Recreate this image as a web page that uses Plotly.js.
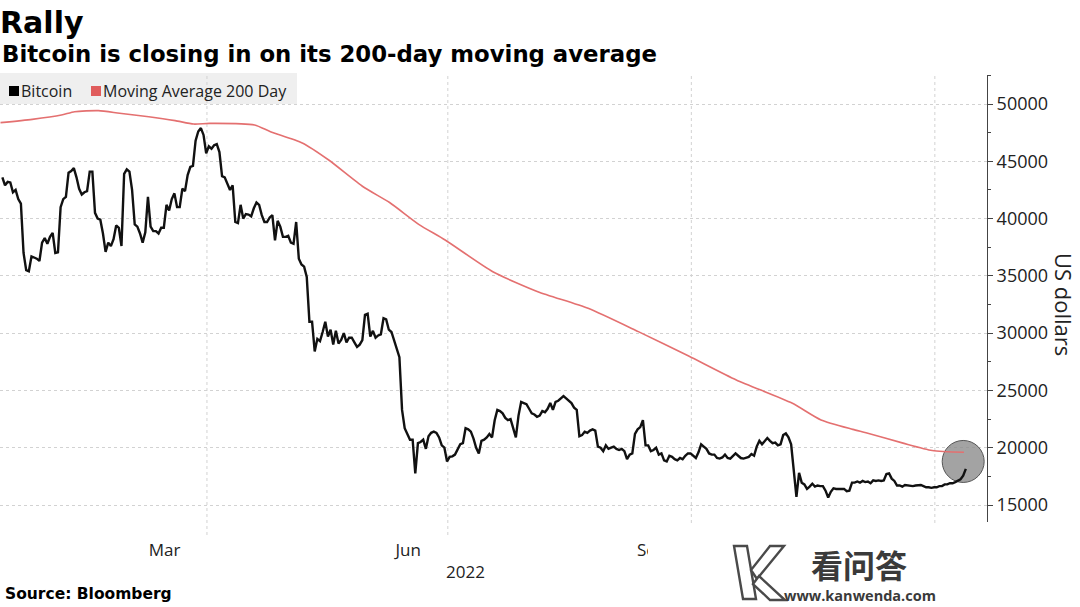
<!DOCTYPE html>
<html>
<head>
<meta charset="utf-8">
<script src="https://cdn.plot.ly/plotly-3.0.1.min.js"></script>
<style>
  html, body { margin: 0; padding: 0; background: #fff; }
  #chart { width: 1080px; height: 607px; }
</style>
</head>
<body>
<div id="chart"></div>
<script>
// ---------------- DATA ----------------
// Bitcoin daily closes, one array per month (first day given in start date)
const btc2022Jan = [43600, 42900, 43200, 43150, 42300, 42500, 41700, 41300, 37000, 35500, 35400, 36700, 36600, 36500, 36300, 37900, 38300, 37800, 38400];
const btc2022Feb = [38750, 37000, 37050, 41000, 41700, 41900, 44000, 44150, 44400, 43600, 42600, 42100, 42300, 42400, 44100, 44100, 40500, 40000, 39900, 38700, 37100, 37900, 37600, 38200, 39400, 39200, 37600, 43900];
const btc2022Mar = [44300, 44100, 42500, 39500, 39300, 38700, 37900, 38800, 41900, 39300, 38900, 38900, 38700, 39200, 39200, 41200, 40700, 41700, 42200, 41000, 41000, 42600, 42400, 43800, 44500, 44600, 46800, 47600, 47900, 47300, 45700];
const btc2022Apr = [46300, 46100, 46400, 46500, 45800, 43700, 43600, 43100, 42500, 42900, 39700, 39600, 41200, 40000, 40400, 40350, 40200, 40900, 41400, 41200, 40300, 39700, 39700, 40100, 40300, 38100, 39800, 39300, 38400, 38400];
const btc2022May = [38500, 37900, 37800, 39700, 36500, 36000, 35800, 34900, 31000, 31000, 28400, 29500, 29300, 30100, 31000, 29700, 30300, 29000, 30200, 29100, 29400, 30000, 29200, 29600, 29600, 29200, 28800, 29000, 29400, 31600, 31700];
const btc2022Jun = [29700, 30200, 29600, 29800, 29900, 31300, 31200, 30300, 30100, 29400, 28800, 27900, 23300, 21700, 21200, 20700, 20700, 17750, 20400, 20500, 20700, 19900, 21000, 21300, 21400, 21300, 20900, 20200, 20000, 18800];
const btc2022Jul = [19200, 19250, 19400, 19900, 20300, 20400, 21700, 21600, 21400, 20800, 20000, 19500, 20600, 20700, 20900, 21200, 20900, 22400, 23300, 23200, 23000, 22600, 22400, 22500, 21700, 20900, 22800, 24000, 23900, 23800, 23400];
const btc2022Aug = [23000, 22900, 22700, 22800, 23200, 23100, 23400, 23900, 23300, 24000, 24100, 24300, 24500, 24300, 24100, 23900, 23500, 23300, 21000, 21100, 21400, 21300, 21500, 21600, 21500, 20100, 20000, 19700, 20200, 19900, 20000];
const btc2022Sep = [20100, 19900, 19800, 19900, 19700, 19000, 19400, 19500, 21200, 21600, 21800, 22400, 20200, 20200, 19700, 19800, 20000, 19400, 19500, 18900, 18800, 19300, 19200, 19000, 18900, 19100, 19000, 19300, 19500, 19500];
const btc2022Oct = [19300, 19100, 19600, 20300, 20100, 19900, 19500, 19400, 19400, 19100, 19050, 19150, 19400, 19100, 19050, 19250, 19500, 19300, 19100, 19050, 19150, 19200, 19450, 19300, 20100, 20600, 20300, 20600, 20850, 20600, 20400];
const btc2022Nov = [20450, 20200, 20300, 21100, 21250, 20900, 20300, 18100, 15700, 17800, 16950, 16800, 16400, 16600, 16850, 16600, 16700, 16650, 16650, 16250, 15650, 16150, 16450, 16400, 16400, 16350, 16400, 16200, 16250, 16950];
const btc2022Dec = [16950, 17050, 16950, 17100, 17000, 17050, 16900, 17150, 17100, 17150, 17100, 17150, 17700, 17750, 17300, 17100, 16700, 16700, 16600, 16750, 16700, 16700, 16650, 16700, 16700, 16750, 16650, 16550, 16550, 16500, 16550];
const btc2023Jan = [16550, 16650, 16650, 16800, 16800, 16900, 16900, 17000, 17100, 17250, 17550, 18150];

const btcMonths = [
  ['2022-01-13', btc2022Jan], ['2022-02-01', btc2022Feb], ['2022-03-01', btc2022Mar],
  ['2022-04-01', btc2022Apr], ['2022-05-01', btc2022May], ['2022-06-01', btc2022Jun],
  ['2022-07-01', btc2022Jul], ['2022-08-01', btc2022Aug], ['2022-09-01', btc2022Sep],
  ['2022-10-01', btc2022Oct], ['2022-11-01', btc2022Nov], ['2022-12-01', btc2022Dec],
  ['2023-01-01', btc2023Jan]
];

// 200-day moving average, read at points along the red line
const maDates = ['2022-01-13', '2022-01-25', '2022-02-05', '2022-02-10', '2022-02-19', '2022-02-27',
  '2022-03-10', '2022-03-20', '2022-03-27', '2022-04-02', '2022-04-19', '2022-04-25', '2022-05-07',
  '2022-05-17', '2022-05-30', '2022-06-09', '2022-06-20', '2022-06-30', '2022-07-18', '2022-08-04',
  '2022-08-23', '2022-09-11', '2022-09-30', '2022-10-18', '2022-11-08', '2022-11-19', '2022-12-01',
  '2022-12-06', '2022-12-20', '2022-12-31', '2023-01-12'];
const maValues = [48370, 48660, 49040, 49330, 49420, 49190, 48890, 48550, 48250, 48310, 48170, 47580,
  46600, 45110, 42780, 41400, 39500, 38130, 35360, 33620, 32170, 30130, 28000, 25910, 23900, 22420,
  21600, 21300, 20400, 19760, 19600];

// Axis labels
const yTickVals = [15000, 20000, 25000, 30000, 35000, 40000, 45000, 50000];
const yTickText = ['15000', '20000', '25000', '30000', '35000', '40000', '45000', '50000'];
const xTickVals = ['2022-03-16', '2022-06-16', '2022-09-16'];
const xTickText = ['Mar', 'Jun', 'Sep'];
const quarterStarts = ['2022-04-01', '2022-07-01', '2022-10-01', '2023-01-01'];
const lastPoint = { date: '2023-01-11 17:00', value: 18800 };

// ---------------- BUILD ----------------
function dailyDates(startISO, n) {
  const t0 = Date.parse(startISO + 'T17:00:00Z');
  const out = [];
  for (let i = 0; i < n; i++) {
    out.push(new Date(t0 + i * 86400000).toISOString().slice(0, 16).replace('T', ' '));
  }
  return out;
}
let btcX = [], btcY = [];
btcMonths.forEach(([start, vals]) => {
  btcX = btcX.concat(dailyDates(start, vals.length));
  btcY = btcY.concat(vals);
});

const PLOT_W = 987, PLOT_TOP = 75, PLOT_BOT = 522, FIG_W = 1080, FIG_H = 607;
const px = v => v / PLOT_W;
const py = v => (PLOT_BOT - v) / (PLOT_BOT - PLOT_TOP);
// polygon path in paper units from pixel points
const pathFromPx = pts => pts.map((p, i) => (i ? 'L' : 'M') + px(p[0]).toFixed(5) + ',' + py(p[1]).toFixed(5)).join(' ') + ' Z';

const traces = [
  { type: 'scatter', mode: 'lines', name: 'Moving Average 200 Day', x: maDates, y: maValues,
    line: { color: '#e47070', width: 1.6, shape: 'spline', smoothing: 0.6 }, showlegend: false, hoverinfo: 'skip' },
  { type: 'scatter', mode: 'lines', name: 'Bitcoin', x: btcX, y: btcY,
    line: { color: '#111111', width: 2.4 }, showlegend: false, hoverinfo: 'skip' }
];

const shapes = [
  // legend background
  { type: 'rect', xref: 'paper', yref: 'paper', x0: 0, x1: px(297), y0: py(104), y1: py(73),
    fillcolor: '#efefef', line: { width: 0 }, layer: 'below' }
];
quarterStarts.forEach(d => shapes.push({
  type: 'line', xref: 'x', yref: 'paper', x0: d, x1: d, y0: py(535), y1: 1,
  line: { color: '#d2d2d2', width: 1, dash: 'dot' }, layer: 'below'
}));
shapes.push(
  // highlight circle at the latest point
  { type: 'circle', xref: 'x', yref: 'y', xsizemode: 'pixel', ysizemode: 'pixel',
    xanchor: lastPoint.date, yanchor: lastPoint.value, x0: -21, x1: 21, y0: -21, y1: 21,
    fillcolor: 'rgba(140,140,140,0.8)', line: { color: '#555', width: 1 }, layer: 'between' },
  // legend swatches
  { type: 'rect', xref: 'paper', yref: 'paper', x0: px(9), x1: px(19), y0: py(96), y1: py(86),
    fillcolor: '#000', line: { width: 0 }, layer: 'above' },
  { type: 'rect', xref: 'paper', yref: 'paper', x0: px(91), x1: px(101), y0: py(96), y1: py(86),
    fillcolor: '#e05c5c', line: { width: 0 }, layer: 'above' },
  // watermark backing
  { type: 'rect', xref: 'paper', yref: 'paper', x0: px(648), x1: px(985), y0: py(607), y1: py(524),
    fillcolor: '#ffffff', line: { width: 0 }, layer: 'above' }
);
// watermark "K" logo, three outlined strokes
const logoStrokes = [
  [[734, 546], [747, 546], [756, 599], [743, 599]],
  [[770, 546], [784, 546], [757, 579], [751, 570]],
  [[753, 584], [759, 576], [785, 600], [770, 600]]
];
logoStrokes.forEach(pts => shapes.push({
  type: 'path', xref: 'paper', yref: 'paper', path: pathFromPx(pts),
  fillcolor: '#ffffff', line: { color: '#4a4a4a', width: 2.4 }, layer: 'above'
}));

const ann = (o) => Object.assign({ xref: 'paper', yref: 'paper', showarrow: false }, o);
const annotations = [
  ann({ text: 'Bitcoin is closing in on its 200-day moving average', x: 0, xanchor: 'left', y: py(54), yanchor: 'middle',
        font: { family: 'DejaVu Sans', size: 22.8, weight: 'bold', color: '#000' } }),
  ann({ text: 'Bitcoin', x: px(19), xanchor: 'left', y: py(91), yanchor: 'middle',
        font: { family: 'Open Sans', size: 16, color: '#222' } }),
  ann({ text: 'Moving Average 200 Day', x: px(101), xanchor: 'left', y: py(91), yanchor: 'middle',
        font: { family: 'Open Sans', size: 16, color: '#222' } }),
  ann({ text: 'US dollars', textangle: 90, x: px(1064), xanchor: 'center', y: py(304), yanchor: 'middle',
        font: { family: 'Open Sans', size: 22, color: '#222' } }),
  ann({ text: '2022', x: px(465), xanchor: 'center', y: py(571), yanchor: 'middle',
        font: { family: 'Open Sans', size: 17, color: '#222' } }),
  ann({ text: 'Source: Bloomberg', x: px(3), xanchor: 'left', y: py(594), yanchor: 'middle',
        font: { family: 'DejaVu Sans', size: 15.5, weight: 'bold', color: '#000' } }),
  ann({ text: '看问答', x: px(859), xanchor: 'center', y: py(564), yanchor: 'middle',
        font: { family: 'Noto Sans CJK SC', size: 32, weight: 'bold', color: '#3a3a3a' } }),
  ann({ text: 'www.kanwenda.com', x: px(860), xanchor: 'center', y: py(595), yanchor: 'middle',
        font: { family: 'Open Sans', size: 14.5, weight: 'bold', color: '#3a3a3a' } })
];

const layout = {
  width: FIG_W, height: FIG_H,
  margin: { l: 0, r: FIG_W - PLOT_W, t: PLOT_TOP, b: FIG_H - PLOT_BOT, pad: 0 },
  paper_bgcolor: '#ffffff', plot_bgcolor: '#ffffff',
  showlegend: false,
  title: { text: 'Rally', x: 0, xref: 'container', xanchor: 'left',
           y: 1 - 22.5 / FIG_H, yref: 'container', yanchor: 'middle',
           font: { family: 'DejaVu Sans', size: 30, weight: 'bold', color: '#000' } },
  xaxis: {
    type: 'date', range: ['2022-01-12 19:28', '2023-01-20 17:00'],
    tickmode: 'array', tickvals: xTickVals, ticktext: xTickText,
    ticks: '', showgrid: false, showline: false, zeroline: false,
    ticklabelstandoff: 16,
    tickfont: { family: 'Open Sans', size: 17, color: '#222' }, fixedrange: true
  },
  yaxis: {
    side: 'right', range: [13516, 52531],
    tickmode: 'array', tickvals: yTickVals, ticktext: yTickText,
    ticks: 'outside', ticklen: 5, tickwidth: 1, tickcolor: '#444',
    showline: true, linecolor: '#444', linewidth: 1,
    showgrid: true, gridcolor: '#d2d2d2', gridwidth: 1, griddash: 'dot', zeroline: false,
    minor: { tick0: 0, dtick: 2500, ticks: 'outside', ticklen: 3, tickcolor: '#444', showgrid: false },
    tickfont: { family: 'Open Sans', size: 18, color: '#222' }, fixedrange: true
  },
  shapes: shapes,
  annotations: annotations
};

Plotly.newPlot('chart', traces, layout, { displayModeBar: false, staticPlot: true });
</script>
</body>
</html>
